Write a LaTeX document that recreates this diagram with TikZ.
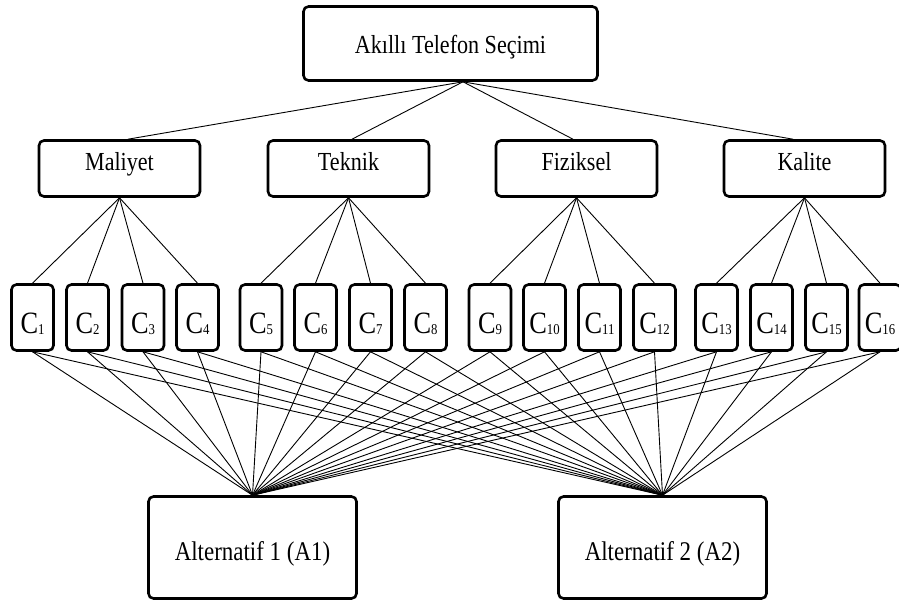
\documentclass[tikz,border=0pt]{standalone}
\usepackage{fontspec}
\setmainfont{Liberation Serif}
\newfontfamily\lblfont[FakeStretch=0.85]{Liberation Serif}
\newcommand\csub[1]{C\raisebox{-1.5pt}{\fontsize{15}{15}\selectfont #1}}
\begin{document}
\begin{tikzpicture}[x=1pt,y=-1pt,
  box/.style={draw, line width=2.6pt, rounded corners=5pt, fill=white, inner sep=0pt},
  topbox/.style={box, minimum width=294pt, minimum height=74pt, text height=26pt, text depth=5pt,
    font=\lblfont\fontsize{26}{26}\selectfont},
  midbox/.style={box, minimum width=161pt, minimum height=56pt, text height=20pt, text depth=17pt,
    font=\lblfont\fontsize{26}{26}\selectfont},
  cbox/.style={box, minimum width=42pt, minimum height=66pt, text height=40pt, text depth=9pt,
    font=\lblfont\fontsize{31}{31}\selectfont},
  abox/.style={box, minimum width=208pt, minimum height=102pt, text height=30pt, text depth=5pt,
    font=\lblfont\fontsize{27}{27}\selectfont},
  edge/.style={line width=0.9pt}]
\useasboundingbox (0,0) rectangle (899,602);
\node[topbox] (goal) at (450.5,43.5) {Akıllı Telefon Seçimi};
\node[midbox] (m1) at (119.5,168.5) {Maliyet};
\node[midbox] (m2) at (348.5,168.5) {Teknik};
\node[midbox] (m3) at (576.5,168.5) {Fiziksel};
\node[midbox] (m4) at (804.5,168.5) {Kalite};
\foreach \i/\x in {1/32.5,2/87.5,3/143,4/197.5,5/261,6/315.5,7/370.5,8/425.5,
  9/490,10/544.5,11/599.5,12/654.5,13/716.5,14/771.5,15/826.5,16/880}
  \node[cbox] (c\i) at (\x,317.5) {\csub{\i}};
\node[abox] (a1) at (252.5,547.5) {Alternatif 1 (A1)};
\node[abox] (a2) at (662.5,547.5) {Alternatif 2 (A2)};
\draw[edge] ([xshift=12.5pt]goal.south) -- ([xshift=8.5pt]m1.north);
\draw[edge] ([xshift=12.5pt]goal.south) -- ([xshift=3.5pt]m2.north);
\draw[edge] ([xshift=12.5pt]goal.south) -- ([xshift=-3.5pt]m3.north);
\draw[edge] ([xshift=12.5pt]goal.south) -- ([xshift=-11.5pt]m4.north);
\foreach \g in {1,...,4}
  \foreach \k in {1,...,4} {
    \pgfmathtruncatemacro\c{(\g-1)*4+\k}
    \draw[edge] (m\g.south) -- (c\c.north);
  }
\foreach \i in {1,...,16} {
  \draw[edge] (c\i.south) -- (a1.north);
  \draw[edge] (c\i.south) -- (a2.north);
}
\end{tikzpicture}
\end{document}
